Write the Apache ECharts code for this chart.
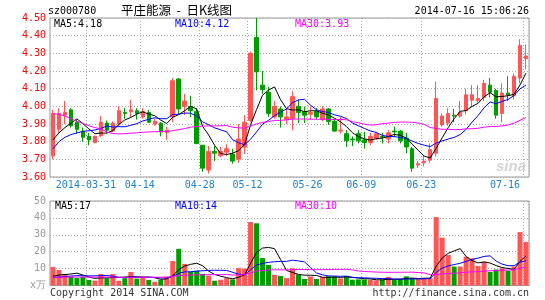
<!DOCTYPE html>
<html><head><meta charset="utf-8">
<script src="https://cdn.jsdelivr.net/npm/echarts@6/dist/echarts.min.js"></script>
<style>html,body{margin:0;padding:0;background:#fff}#c{width:545px;height:300px}</style>
</head><body><div id="c"></div>
<script>
// ---------- data ----------
const dates = ['2014-03-21','2014-03-24','2014-03-25','2014-03-26','2014-03-27','2014-03-28','2014-03-31','2014-04-01','2014-04-02','2014-04-03',
'2014-04-04','2014-04-08','2014-04-09','2014-04-10','2014-04-11','2014-04-14','2014-04-15','2014-04-16','2014-04-17','2014-04-18',
'2014-04-21','2014-04-22','2014-04-23','2014-04-24','2014-04-25','2014-04-28','2014-04-29','2014-04-30','2014-05-05','2014-05-06',
'2014-05-07','2014-05-08','2014-05-09','2014-05-12','2014-05-13','2014-05-14','2014-05-15','2014-05-16','2014-05-19','2014-05-20',
'2014-05-21','2014-05-22','2014-05-23','2014-05-26','2014-05-27','2014-05-28','2014-05-29','2014-05-30','2014-06-03','2014-06-04',
'2014-06-05','2014-06-06','2014-06-09','2014-06-10','2014-06-11','2014-06-12','2014-06-13','2014-06-16','2014-06-17','2014-06-18',
'2014-06-19','2014-06-20','2014-06-23','2014-06-24','2014-06-25','2014-06-26','2014-06-27','2014-06-30','2014-07-01','2014-07-02',
'2014-07-03','2014-07-04','2014-07-07','2014-07-08','2014-07-09','2014-07-10','2014-07-11','2014-07-14','2014-07-15','2014-07-16'];

const openP = [3.72,3.87,3.95,3.98,3.91,3.86,3.83,3.795,3.835,3.905,
3.86,3.90,3.965,3.97,3.975,3.94,3.965,3.90,3.905,3.85,
3.94,4.155,4.00,4.00,3.97,3.78,3.64,3.745,3.72,3.74,
3.73,3.70,3.77,3.92,4.39,4.12,4.08,3.94,3.985,3.925,
3.93,4.00,3.97,3.955,3.97,3.925,3.985,3.915,3.86,3.845,
3.815,3.845,3.81,3.795,3.82,3.83,3.815,3.86,3.86,3.82,
3.76,3.668,3.68,3.695,3.735,3.895,3.905,3.95,3.945,3.975,
4.035,4.033,4.05,4.12,4.09,3.96,4.075,4.06,4.16,4.27];

const closeP = [3.96,3.96,3.965,3.89,3.87,3.825,3.81,3.83,3.91,3.865,
3.905,3.975,3.96,3.98,3.96,3.97,3.91,3.915,3.855,3.865,
4.145,3.985,4.03,3.975,3.79,3.65,3.745,3.735,3.745,3.76,
3.69,3.815,3.91,4.30,4.195,4.095,3.96,4.00,3.94,3.94,
4.055,3.965,3.95,3.965,3.94,3.985,3.915,3.86,3.865,3.805,
3.81,3.805,3.795,3.83,3.845,3.825,3.85,3.855,3.805,3.77,
3.65,3.675,3.69,3.755,4.045,3.945,3.96,3.945,3.965,4.065,
4.065,4.045,4.13,4.08,3.95,4.075,4.065,4.17,4.345,4.285];

const lowP = [3.70,3.85,3.90,3.88,3.845,3.80,3.78,3.79,3.825,3.85,
3.855,3.885,3.93,3.935,3.925,3.93,3.905,3.89,3.83,3.81,
3.91,3.955,3.95,3.94,3.785,3.63,3.62,3.69,3.71,3.72,
3.675,3.68,3.73,3.91,4.09,4.07,3.94,3.93,3.88,3.90,
3.865,3.905,3.905,3.925,3.925,3.915,3.895,3.855,3.845,3.77,
3.775,3.79,3.76,3.78,3.81,3.79,3.79,3.825,3.79,3.735,
3.63,3.65,3.66,3.68,3.715,3.885,3.89,3.91,3.935,3.955,
4.00,4.02,4.03,4.05,3.93,3.91,4.03,4.04,4.13,4.21];

const highP = [3.98,3.99,4.03,3.99,3.925,3.88,3.85,3.835,3.945,3.92,
3.915,4.00,3.99,4.035,3.99,3.99,3.98,3.93,3.91,3.885,
4.16,4.16,4.07,4.06,3.99,3.78,3.775,3.775,3.77,3.785,
3.76,3.90,3.95,4.31,4.50,4.20,4.11,4.03,4.00,3.99,
4.085,4.04,3.998,4.00,3.99,4.00,3.99,3.93,3.94,3.865,
3.83,3.865,3.855,3.85,3.855,3.85,3.865,3.885,3.865,3.85,
3.77,3.69,3.72,3.79,4.14,3.96,3.99,3.985,4.03,4.10,
4.12,4.12,4.15,4.16,4.10,4.13,4.17,4.185,4.38,4.35];

const volume = [11,9.2,6.8,5.2,4.4,5.2,3.3,2.9,6.8,4.3,
6.8,2.8,4.3,8.0,4.1,5.3,3.3,2.2,3.3,5.3,
14.5,21.7,12.8,8.3,8.7,6.9,5.8,2.8,3.4,4.3,
3.6,10.3,10.0,37.5,36.8,16.2,12.2,6.2,5.6,4.4,
10.2,6.5,3.9,5.3,3.9,5.0,5.5,5.4,4.2,5.5,
3.4,3.6,3.6,3.4,3.0,3.3,5.1,3.4,3.8,5.4,
4.3,3.8,4.2,4.3,40.5,28.3,18.0,11.2,11.2,17.0,
16.0,11.5,14.0,8.0,9.5,10.2,8.7,11.2,31.6,25.7];

const ma5 = [3.81,3.85,3.88,3.905,3.929,3.902,3.872,3.845,3.849,3.848,
3.864,3.897,3.923,3.937,3.956,3.969,3.956,3.947,3.922,3.903,
3.938,3.953,3.976,4.000,3.985,3.886,3.838,3.779,3.733,3.727,
3.735,3.749,3.784,3.895,3.982,4.063,4.092,4.110,4.038,3.987,
3.979,3.980,3.970,3.975,3.975,3.961,3.951,3.933,3.913,3.886,
3.851,3.829,3.816,3.809,3.817,3.820,3.829,3.841,3.836,3.821,
3.786,3.751,3.718,3.708,3.763,3.822,3.879,3.930,3.972,3.976,
4.000,4.017,4.054,4.077,4.054,4.056,4.060,4.068,4.121,4.188];

const ma10 = [3.76,3.80,3.825,3.84,3.85,3.858,3.862,3.866,3.875,3.889,
3.883,3.885,3.884,3.893,3.902,3.917,3.927,3.935,3.930,3.930,
3.954,3.955,3.962,3.961,3.944,3.912,3.896,3.878,3.867,3.856,
3.811,3.794,3.782,3.814,3.855,3.899,3.921,3.947,3.967,3.985,
4.021,4.036,4.040,4.007,3.981,3.970,3.966,3.952,3.944,3.931,
3.906,3.890,3.875,3.861,3.852,3.836,3.829,3.829,3.823,3.819,
3.803,3.790,3.780,3.772,3.792,3.804,3.815,3.824,3.840,3.870,
3.911,3.948,3.992,4.025,4.015,4.028,4.039,4.061,4.099,4.121];

const ma30 = [3.958,3.955,3.945,3.93,3.915,3.903,3.89,3.88,3.872,3.855,
3.846,3.844,3.845,3.848,3.85,3.853,3.855,3.856,3.857,3.858,
3.862,3.868,3.874,3.882,3.886,3.888,3.889,3.889,3.89,3.891,
3.882,3.878,3.876,3.889,3.900,3.909,3.914,3.920,3.921,3.923,
3.928,3.928,3.928,3.927,3.927,3.927,3.927,3.925,3.926,3.924,
3.913,3.907,3.899,3.894,3.896,3.902,3.905,3.909,3.911,3.911,
3.910,3.905,3.898,3.880,3.875,3.870,3.870,3.868,3.869,3.873,
3.873,3.876,3.882,3.886,3.886,3.889,3.894,3.905,3.921,3.937];

const vma5 = [5.5,6.2,6.5,6.8,7.32,6.16,4.98,4.2,4.52,4.5,
4.82,4.72,5.0,5.24,5.2,4.9,5.0,4.58,3.64,3.88,
5.72,9.4,11.52,12.52,13.2,11.68,8.5,6.5,5.52,4.64,
3.98,4.88,6.32,13.14,19.64,22.16,22.54,21.78,15.4,8.92,
7.72,6.58,6.12,6.06,5.96,4.92,4.72,5.02,4.8,5.12,
4.8,4.42,4.06,3.9,3.4,3.38,3.68,3.64,3.72,4.2,
4.4,4.14,4.3,4.4,11.42,16.22,19.06,20.46,21.84,17.14,
14.68,13.38,13.94,13.3,11.8,10.64,10.08,9.52,14.24,17.48];

const vma10 = [4.8,5.0,5.3,5.6,5.8,5.8,5.7,5.7,5.8,5.91,
5.49,4.85,4.6,4.88,4.85,4.86,4.86,4.79,4.44,4.54,
5.31,7.2,8.05,8.08,8.54,8.7,8.95,9.01,9.02,8.92,
7.83,6.69,6.41,9.33,12.14,13.07,13.71,14.05,14.27,14.28,
14.94,14.56,13.95,10.73,7.44,6.32,5.65,5.57,5.43,5.54,
4.86,4.57,4.54,4.35,4.26,4.09,4.05,3.85,3.81,3.8,
3.89,3.91,3.97,4.06,7.81,10.31,11.6,12.38,13.12,14.28,
15.45,16.22,17.2,17.57,14.47,12.66,11.73,11.73,13.77,14.64];

const vma30 = [4.9,4.9,5.0,5.0,5.0,5.0,5.0,5.0,5.0,5.0,
5.0,4.9,4.9,4.9,4.9,4.9,4.9,4.9,4.9,4.9,
5.3,5.8,6.1,6.2,6.3,6.3,6.4,6.4,6.4,6.46,
6.21,6.25,6.35,7.43,8.51,8.88,9.17,9.28,9.24,9.25,
9.36,9.48,9.47,9.38,9.37,9.36,9.44,9.54,9.57,9.58,
9.21,8.61,8.3,8.14,7.95,7.83,7.8,7.82,7.84,7.87,
7.9,7.68,7.49,6.38,6.5,6.91,7.1,7.27,7.45,7.87,
8.07,8.23,8.57,8.66,8.85,9.02,9.13,9.32,10.23,10.91];

const xTickDates = ['2014-03-31','2014-04-14','2014-04-28','2014-05-12','2014-05-26','2014-06-09','2014-06-23','2014-07-16'];
const xTickLabels = ['2014-03-31','04-14','04-28','05-12','05-26','06-09','06-23','07-16'];
const priceTickLabels = ['3.60','3.70','3.80','3.90','4.00','4.10','4.20','4.30','4.40','4.50'];
const volTickLabels = ['x万','10','20','30','40','50'];
const priceLegend = ['MA5:4.18','MA10:4.12','MA30:3.93'];
const volLegend = ['MA5:17','MA10:14','MA30:10'];
const headerTexts = ['sz000780','平庄能源  -  日K线图','2014-07-16 15:06:26'];
const footerTexts = ['Copyright 2014 SINA.COM','http://finance.sina.com.cn'];

// ---------- chart ----------
const FONT = 'DejaVu Sans Mono';
const UP = '#ff5555', DOWN = '#009d00';
const GRIDC = '#aaaaaa';
const isTick = (i) => xTickDates.indexOf(dates[i]) >= 0;
const xLabel = (v) => { const k = xTickDates.indexOf(v); return k >= 0 ? xTickLabels[k] : ''; };

const candle = dates.map((d, i) => [openP[i], closeP[i], lowP[i], highP[i]]);
const volData = volume.map((v, i) => ({ value: v, itemStyle: { color: closeP[i] >= openP[i] ? UP : DOWN } }));

const splitX = { show: true, interval: (i) => isTick(i), lineStyle: { color: GRIDC, width: 1, type: [1, 2] } };
const splitY = { show: true, lineStyle: { color: GRIDC, width: 1, type: [1, 2] } };

function txt(text, x, y, color, align, font) {
  return { type: 'text', x: x, y: y, silent: true, z: 100,
    style: { text: text, fill: color, font: font || ('10px ' + FONT),
      align: align, textAlign: align, verticalAlign: 'middle', textVerticalAlign: 'middle' } };
}
function line(name, data, color, xi) {
  return { name: name, type: 'line', xAxisIndex: xi, yAxisIndex: xi, data: data, symbol: 'none', showSymbol: false,
    silent: true, animation: false, lineStyle: { color: color, width: 1 }, itemStyle: { color: color }, z: 5 };
}

const chart = echarts.init(document.getElementById('c'), null, { renderer: 'canvas' });
chart.setOption({
  animation: false,
  backgroundColor: '#ffffff',
  tooltip: { show: false },
  grid: [
    { left: 50, top: 18, width: 479, height: 159, show: true, borderColor: '#999', borderWidth: 1, backgroundColor: 'transparent', containLabel: false, outerBoundsMode: 'none' },
    { left: 50, top: 201, width: 479, height: 84.5, show: true, borderColor: '#999', borderWidth: 1, backgroundColor: 'transparent', containLabel: false, outerBoundsMode: 'none' }
  ],
  xAxis: [
    { type: 'category', gridIndex: 0, data: dates, boundaryGap: true,
      axisLine: { show: false }, axisTick: { show: false },
      axisLabel: { interval: (i) => isTick(i), formatter: xLabel, color: '#1e82d2', fontFamily: FONT, fontSize: 10,
        margin: 3, padding: [0, 6, 0, 0], alignMaxLabel: 'right', hideOverlap: false },
      splitLine: splitX },
    { type: 'category', gridIndex: 1, data: dates, boundaryGap: true,
      axisLine: { show: false }, axisTick: { show: false }, axisLabel: { show: false },
      splitLine: splitX }
  ],
  yAxis: [
    { type: 'value', gridIndex: 0, min: 3.6, max: 4.5, interval: 0.1, scale: true,
      axisLine: { show: false }, axisTick: { show: false },
      axisLabel: { color: '#ff0000', fontFamily: FONT, fontSize: 10, margin: 4,
        formatter: (v, i) => priceTickLabels[i] !== undefined ? priceTickLabels[i] : v.toFixed(2) },
      splitLine: splitY },
    { type: 'value', gridIndex: 1, min: 0, max: 50, interval: 10,
      axisLine: { show: false }, axisTick: { show: false },
      axisLabel: { color: '#999999', fontFamily: FONT, fontSize: 10, margin: 4,
        formatter: (v, i) => volTickLabels[i] !== undefined ? volTickLabels[i] : String(v) },
      splitLine: splitY }
  ],
  series: [
    { name: 'K', type: 'candlestick', xAxisIndex: 0, yAxisIndex: 0, data: candle, barWidth: 4, silent: true, z: 3,
      itemStyle: { color: UP, color0: DOWN, borderColor: UP, borderColor0: DOWN, borderWidth: 1 } },
    line('MA5', ma5, '#000000', 0),
    line('MA10', ma10, '#0000ff', 0),
    line('MA30', ma30, '#ff00ff', 0),
    { name: 'VOL', type: 'bar', xAxisIndex: 1, yAxisIndex: 1, data: volData, barWidth: 5, silent: true, z: 3 },
    line('VMA5', vma5, '#000000', 1),
    line('VMA10', vma10, '#0000ff', 1),
    line('VMA30', vma30, '#ff00ff', 1)
  ],
  graphic: [
    txt(headerTexts[0], 48, 11, '#000', 'left'),
    txt(headerTexts[1], 121, 10, '#000', 'left', '12.5px "Noto Sans CJK SC"'),
    txt(headerTexts[2], 529, 11, '#000', 'right'),
    txt(priceLegend[0], 54, 24, '#000', 'left'),
    txt(priceLegend[1], 175, 24, '#0000ff', 'left'),
    txt(priceLegend[2], 295, 24, '#ff00ff', 'left'),
    txt(volLegend[0], 55, 206, '#000', 'left'),
    txt(volLegend[1], 175, 206, '#0000ff', 'left'),
    txt(volLegend[2], 295, 206, '#ff00ff', 'left'),
    txt(footerTexts[0], 50, 293, '#333', 'left'),
    txt(footerTexts[1], 529, 293, '#333', 'right'),
    txt('sina', 511, 167, '#d4d4d4', 'center', 'italic bold 15px "Liberation Sans"')
  ]
});
</script>
</body></html>
